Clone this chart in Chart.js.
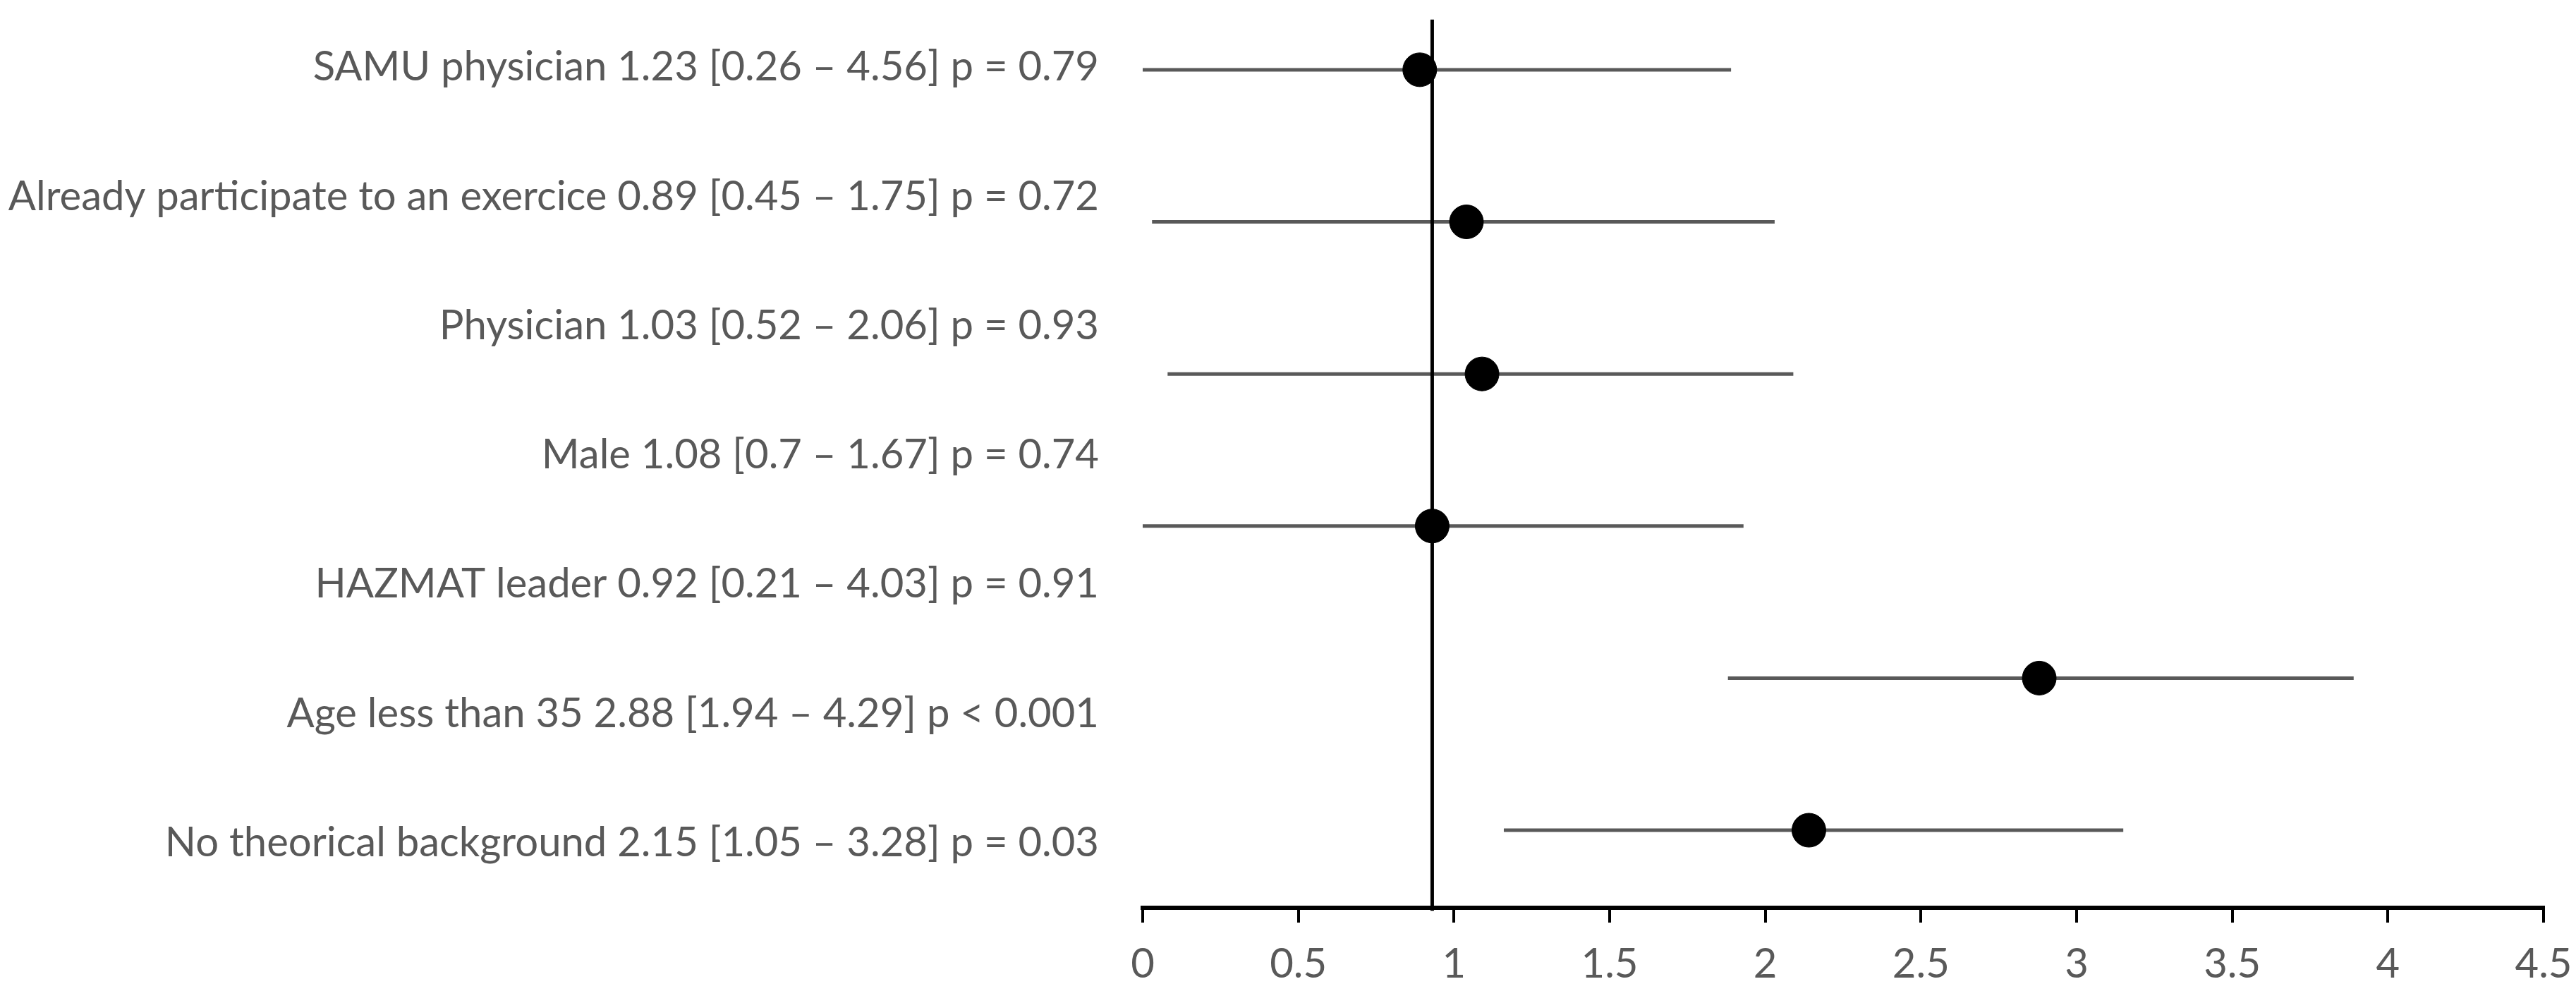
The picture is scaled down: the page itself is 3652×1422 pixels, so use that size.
<!DOCTYPE html>
<html>
<head>
<meta charset="utf-8">
<script src="https://cdn.jsdelivr.net/npm/chart.js@4/dist/chart.umd.min.js"></script>
<style>
  html, body { margin: 0; padding: 0; background: #fff; }
  #wrap { width: 3652px; height: 1422px; }
</style>
</head>
<body>
<div id="wrap"><canvas id="chart"></canvas></div>
<script>
// Row labels, top to bottom
const rowLabels = [
  'SAMU physician 1.23 [0.26 \u2013 4.56] p = 0.79',
  'Already participate to an exercice 0.89 [0.45 \u2013 1.75] p = 0.72',
  'Physician 1.03 [0.52 \u2013 2.06] p = 0.93',
  'Male 1.08 [0.7 \u2013 1.67] p = 0.74',
  'HAZMAT leader 0.92 [0.21 \u2013 4.03] p = 0.91',
  'Age less than 35 2.88 [1.94 \u2013 4.29] p < 0.001',
  'No theorical background 2.15 [1.05 \u2013 3.28] p = 0.03'
];

// Plotted points
const pointRows = [6, 5, 4, 3, 2, 1];
const pointValues = [0.89, 1.04, 1.09, 0.93, 2.88, 2.14];
const lowerValues = [0, 0.03, 0.08, 0, 1.88, 1.16];
const upperValues = [1.89, 2.03, 2.09, 1.93, 3.89, 3.15];

// Reference line
const refValue = 0.93;
const refRange = [6.33, 0.47];

// X axis ticks
const xTicks = [0, 0.5, 1, 1.5, 2, 2.5, 3, 3.5, 4, 4.5];

const FONT = "Lato, 'Open Sans', sans-serif";
const GREY = '#595959';

// draws the horizontal error bars through the scales
const errorBars = {
  id: 'errorBars',
  beforeDatasetsDraw(chart) {
    const { ctx, scales: { x, y } } = chart;
    ctx.save();
    ctx.strokeStyle = GREY;
    ctx.lineWidth = 5;
    pointRows.forEach((row, i) => {
      const py = y.getPixelForValue(row);
      ctx.beginPath();
      ctx.moveTo(x.getPixelForValue(lowerValues[i]), py);
      ctx.lineTo(x.getPixelForValue(upperValues[i]), py);
      ctx.stroke();
    });
    ctx.restore();
  }
};

const points = pointValues.map((v, i) => ({ x: v, y: pointRows[i] }));

new Chart(document.getElementById('chart'), {
  type: 'scatter',
  data: {
    datasets: [
      {
        type: 'line',
        data: refRange.map(r => ({ x: refValue, y: r })),
        borderColor: '#000',
        borderWidth: 5,
        pointRadius: 0,
        clip: false,
        order: 2
      },
      {
        data: points,
        backgroundColor: '#000',
        borderColor: '#000',
        pointRadius: 24,
        pointHoverRadius: 24,
        order: 1
      }
    ]
  },
  options: {
    responsive: true,
    maintainAspectRatio: false,
    animation: false,
    events: [],
    layout: { autoPadding: false, padding: { top: 4, right: 46, bottom: 0, left: 0 } },
    plugins: {
      legend: { display: false },
      tooltip: { enabled: false }
    },
    scales: {
      x: {
        type: 'linear',
        min: 0,
        max: 4.5,
        afterBuildTicks: (scale) => { scale.ticks = xTicks.map(v => ({ value: v })); },
        afterFit: (scale) => {
          scale.height = 135;
          scale.paddingLeft = 0;
          scale.paddingRight = 0;
        },
        grid: {
          drawOnChartArea: false,
          drawTicks: true,
          tickLength: 21,
          color: '#000',
          lineWidth: 4
        },
        border: { color: '#000', width: 6 },
        ticks: {
          color: GREY,
          padding: 24,
          font: { family: FONT, size: 58 },
          callback: (v) => String(v)
        }
      },
      y: {
        type: 'linear',
        min: 0.49,
        max: 6.44,
        display: false
      },
      rows: {
        type: 'category',
        labels: rowLabels,
        position: 'left',
        offset: true,
        afterFit: (scale) => {
          scale.width = 1620;
          scale.paddingTop = 0;
          scale.paddingBottom = 0;
        },
        grid: { display: false, drawTicks: false },
        border: { display: false },
        ticks: {
          color: GREY,
          padding: 62,
          autoSkip: false,
          font: { family: FONT, size: 58 }
        }
      }
    }
  },
  plugins: [errorBars]
});
</script>
</body>
</html>
